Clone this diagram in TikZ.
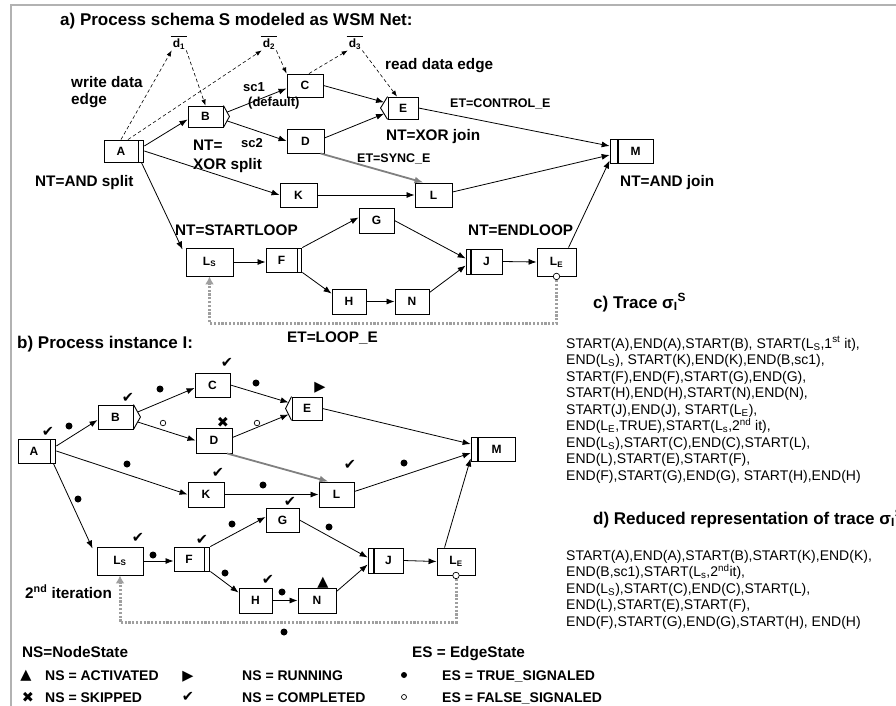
\documentclass[tikz,border=0pt]{standalone}
\usepackage{fontspec}
\setmainfont{Liberation Sans}
\newfontfamily\symf{DejaVu Sans}
\usetikzlibrary{arrows.meta,calc}
\tikzset{
 box/.style={draw, line width=0.9pt, inner sep=0pt, font=\fontsize{12}{14}\selectfont\bfseries},
 bar/.style={draw, line width=0.9pt, inner sep=0pt},
 flow/.style={draw, line width=0.8pt, -{Latex[length=8pt,width=6pt]}},
 data/.style={draw, line width=0.6pt, dash pattern=on 3.5pt off 2.5pt, -{Latex[length=6pt,width=4.5pt]}},
 sync/.style={draw=gray, line width=1.8pt, -{Latex[length=9pt,width=7pt]}},
 loope/.style={draw=gray!75, line width=3pt, dash pattern=on 2.2pt off 1.6pt, -{Latex[length=8pt,width=9pt]}},
 ttl/.style={font=\fontsize{17}{20}\selectfont\bfseries, inner sep=0pt, anchor=base west},
 lbl/.style={font=\fontsize{15.3}{18}\selectfont\bfseries, inner sep=0pt, anchor=base west},
 elbl/.style={font=\fontsize{12.5}{15}\selectfont\bfseries, inner sep=0pt, anchor=base west},
 sclbl/.style={font=\fontsize{13}{15}\selectfont\bfseries, inner sep=0pt, anchor=base west},
 dlbl/.style={font=\fontsize{12}{14}\selectfont\bfseries, inner sep=1pt},
 trc/.style={font=\fontsize{14}{16}\selectfont, inner sep=0pt, anchor=base west},
 leg/.style={font=\fontsize{14}{16}\selectfont\bfseries, inner sep=0pt, anchor=base west},
 sym/.style={font=\symf\fontsize{14.5}{14.5}\selectfont, inner sep=0pt},
 tdot/.style={circle, fill, inner sep=0pt, minimum size=7pt},
 fdot/.style={circle, draw, fill=white, line width=0.7pt, inner sep=0pt, minimum size=5.5pt},
 frame/.style={draw=gray!60, line width=1.2pt},
 chev/.style={draw, line width=0.9pt}
}
\begin{document}
\begin{tikzpicture}[x=1pt,y=-1pt]
\useasboundingbox (0,0) rectangle (896,706);
\draw[frame] (11,5) rectangle (910,720);

% ================= a) =================
\node[ttl] (ta) at (60,26) {a) Process schema S modeled as WSM Net:};

\node[box, minimum width=34, minimum height=22] (A) at (121,151) {A};
\node[bar, minimum width=5, minimum height=22, anchor=west] (Ab) at (A.east) {};
\node[box, minimum width=35, minimum height=21] (B) at (205.5,116.5) {B};
\coordinate (Bt) at ($(B.east)+(6,0)$);
\draw[chev] (B.north east) -- (Bt) -- (B.south east);
\node[box, minimum width=36, minimum height=23] (C) at (305,85.5) {C};
\node[box, minimum width=37, minimum height=24] (D) at (305.5,141) {D};
\node[box, minimum width=30, minimum height=22] (E) at (403,108) {E};
\coordinate (Et) at ($(E.west)+(-7,0)$);
\draw[chev] (E.north west) -- (Et) -- (E.south west);
\node[box, minimum width=35, minimum height=24] (M) at (635.5,151) {M};
\node[bar, minimum width=7, minimum height=24, anchor=east] (Mb) at (M.west) {};
\node[box, minimum width=37, minimum height=24] (K) at (298.5,195) {K};
\node[box, minimum width=37, minimum height=24] (L) at (433.5,195) {L};
\node[box, minimum width=35, minimum height=25] (G) at (376.5,220.5) {G};
\node[box, minimum width=47, minimum height=28] (LS) at (209.5,262) {L\textsubscript{S}};
\node[box, minimum width=31, minimum height=24] (F) at (281.5,260) {F};
\node[bar, minimum width=4, minimum height=24, anchor=west] (Fb) at (F.east) {};
\node[box, minimum width=31, minimum height=25] (J) at (486.5,261.5) {J};
\node[bar, minimum width=4, minimum height=25, anchor=east] (Jb) at (J.west) {};
\node[box, minimum width=39, minimum height=28] (LE) at (556.5,262) {L\textsubscript{E}};
\node[box, minimum width=34, minimum height=25] (H) at (349,301.5) {H};
\node[box, minimum width=34, minimum height=25] (N) at (412,301.5) {N};

% data objects
\node[dlbl] (da1) at (179,44) {d\textsubscript{1}};
\node[dlbl] (da2) at (269,44) {d\textsubscript{2}};
\node[dlbl] (da3) at (355,44) {d\textsubscript{3}};
\foreach \d in {da1,da2,da3}{
  \draw[line width=0.7pt] ($(\d.north west)+(-1,-1)$) -- ($(\d.north east)+(1,-1)$);
}
\draw[data] (A.north) -- (da1.south west);
\draw[data] ($(A.north)+(7,0)$) -- (da2.south west);
\draw[data] (da1.south east) -- (B.north);
\draw[data] (da2.south east) -- (C.north west);
\draw[data] ($(C.north)+(4,0)$) -- (da3.south west);
\draw[data] (da3.south east) -- ($(E.north)+(-6,0)$);

% control edges
\draw[flow] ($(Ab.east)+(0,-5)$) -- ($(B.west)+(0,3)$);
\draw[flow] (Ab.east) -- (K.west);
\draw[flow] (Ab.south) -- ($(LS.north west)+(-3,2)$);
\draw[flow] ($(B.north east)!0.6!(Bt)$) -- ($(C.west)+(0,3)$);
\draw[flow] ($(B.south east)!0.6!(Bt)$) -- (D.west);
\draw[flow] (C.east) -- ($(E.north west)!0.5!(Et)$);
\draw[flow] ($(D.east)+(0,-3)$) -- ($(E.south west)!0.5!(Et)$);
\draw[flow] (E.east) -- ($(Mb.west)+(0,-5)$);
\draw[flow] ($(L.east)+(0,-3)$) -- ($(Mb.west)+(0,4)$);
\draw[flow] ($(LE.north)+(12,0)$) -- ($(Mb.south west)+(0,-3)$);
\draw[flow] (K.east) -- (L.west);
\draw[sync] ($(D.south)+(15,0)$) -- ($(L.north)+(-10,0)$);
\draw[flow] (LS.east) -- (F.west |- LS.east);
\draw[flow] (Fb.north east) -- ($(G.west)+(0,-3)$);
\draw[flow] (Fb.south east) -- ($(H.north west)+(0,5)$);
\draw[flow] (G.east) -- ($(Jb.west)+(0,-3)$);
\draw[flow] (H.east) -- (N.west);
\draw[flow] ($(N.north east)+(0,4)$) -- ($(Jb.west)+(0,4)$);
\draw[flow] (J.east) -- (LE.west);
\draw[loope] (LE.south) -- ++(0,47) -| (LS.south);
\node[fdot, minimum size=6.5pt] (LEc) at (LE.south) {};

% labels a)
\node[lbl] (lw1) at (71,88) {write data};
\node[lbl] (lw2) at (71,105) {edge};
\node[lbl] (lands) at (35,186) {NT=AND split};
\node[sclbl] (lsc1) at (243,92) {sc1};
\node[sclbl] (ldef) at (248,106.5) {(default)};
\node[sclbl] (lsc2) at (241,147.5) {sc2};
\node[lbl] (lxs1) at (193,150.5) {NT=};
\node[lbl] (lxs2) at (193,169) {XOR split};
\node[lbl] (lrd) at (385,70) {read data edge};
\node[elbl] (lctl) at (450,107.5) {ET=CONTROL\_E};
\node[lbl] (lxj) at (386,140) {NT=XOR join};
\node[elbl] (lsy) at (357,162) {ET=SYNC\_E};
\node[lbl] (laj) at (620,186) {NT=AND join};
\node[lbl] (lsl) at (175,235) {NT=STARTLOOP};
\node[lbl] (lel) at (468,235) {NT=ENDLOOP};
\node[lbl] (llp) at (287,342) {ET=LOOP\_E};

% ================= c) d) =================
\node[ttl] (tc) at (593,308) {c) Trace σ\textsubscript{I}\textsuperscript{S}};
\node[trc] (c1) at (566,348) {START(A),END(A),START(B), START(L\textsubscript{S},1\textsuperscript{st} it),};
\node[trc] (c2) at (566,364.5) {END(L\textsubscript{S}), START(K),END(K),END(B,sc1),};
\node[trc] (c3) at (566,381) {START(F),END(F),START(G),END(G),};
\node[trc] (c4) at (566,397.5) {START(H),END(H),START(N),END(N),};
\node[trc] (c5) at (566,414) {START(J),END(J), START(L\textsubscript{E}),};
\node[trc] (c6) at (566,430.5) {END(L\textsubscript{E},TRUE),START(L\textsubscript{s},2\textsuperscript{nd} it),};
\node[trc] (c7) at (566,447) {END(L\textsubscript{S}),START(C),END(C),START(L),};
\node[trc] (c8) at (566,463.5) {END(L),START(E),START(F),};
\node[trc] (c9) at (566,480) {END(F),START(G),END(G), START(H),END(H)};

\node[ttl] (td) at (593,524) {d) Reduced representation of trace σ\textsubscript{I}\textsuperscript{S}};
\node[trc] (e1) at (566,560) {START(A),END(A),START(B),START(K),END(K),};
\node[trc] (e2) at (566,576.5) {END(B,sc1),START(L\textsubscript{s},2\textsuperscript{nd}it),};
\node[trc] (e3) at (566,593) {END(L\textsubscript{S}),START(C),END(C),START(L),};
\node[trc] (e4) at (566,609.5) {END(L),START(E),START(F),};
\node[trc] (e5) at (566,626) {END(F),START(G),END(G),START(H), END(H)};

% ================= b) =================
\node[ttl] (tb) at (17,348) {b) Process instance I:};

\node[box, minimum width=32, minimum height=24] (bA) at (34,451) {A};
\node[bar, minimum width=5, minimum height=24, anchor=west] (bAb) at (bA.east) {};
\node[box, minimum width=35, minimum height=24] (bB) at (115.5,417) {B};
\coordinate (bBt) at ($(bB.east)+(7,0)$);
\draw[chev] (bB.north east) -- (bBt) -- (bB.south east);
\node[box, minimum width=35, minimum height=24] (bC) at (212.5,385) {C};
\node[box, minimum width=36, minimum height=25] (bD) at (214,440.5) {D};
\node[box, minimum width=30, minimum height=23] (bE) at (307,408.5) {E};
\coordinate (bEt) at ($(bE.west)+(-6,0)$);
\draw[chev] (bE.north west) -- (bEt) -- (bE.south west);
\node[box, minimum width=37, minimum height=24] (bM) at (496.5,449) {M};
\node[bar, minimum width=6, minimum height=24, anchor=east] (bMb) at (bM.west) {};
\node[box, minimum width=36, minimum height=25] (bK) at (206,494.5) {K};
\node[box, minimum width=35, minimum height=25] (bL) at (336.5,494.5) {L};
\node[box, minimum width=33, minimum height=24] (bG) at (282.5,520) {G};
\node[box, minimum width=46, minimum height=28] (bLS) at (120,561) {L\textsubscript{S}};
\node[box, minimum width=30, minimum height=24] (bF) at (189,559) {F};
\node[bar, minimum width=5, minimum height=24, anchor=west] (bFb) at (bF.east) {};
\node[box, minimum width=29, minimum height=25] (bJ) at (388.5,560.5) {J};
\node[bar, minimum width=5, minimum height=25, anchor=east] (bJb) at (bJ.west) {};
\node[box, minimum width=38, minimum height=27] (bLE) at (456,561.5) {L\textsubscript{E}};
\node[box, minimum width=33, minimum height=25] (bH) at (255.5,600.5) {H};
\node[box, minimum width=38, minimum height=25] (bN) at (317,600.5) {N};

\draw[flow] ($(bAb.east)+(0,-5)$) -- ($(bB.west)+(0,3)$);
\draw[flow] (bAb.east) -- (bK.west);
\draw[flow] (bAb.south) -- ($(bLS.north west)+(-4,2)$);
\draw[flow] ($(bB.north east)!0.6!(bBt)$) -- ($(bC.west)+(0,3)$);
\draw[flow] ($(bB.south east)!0.6!(bBt)$) -- (bD.west);
\draw[flow] (bC.east) -- ($(bE.north west)!0.5!(bEt)$);
\draw[flow] ($(bD.east)+(0,-3)$) -- ($(bE.south west)!0.5!(bEt)$);
\draw[flow] (bE.east) -- ($(bMb.west)+(0,-5)$);
\draw[flow] ($(bL.east)+(0,-3)$) -- ($(bMb.west)+(0,4)$);
\draw[flow] ($(bLE.north west)+(8,0)$) -- ($(bMb.south west)+(0,-3)$);
\draw[flow] (bK.east) -- (bL.west);
\draw[sync] ($(bD.south)+(13,0)$) -- ($(bL.north)+(-8,0)$);
\draw[flow] (bLS.east) -- (bF.west |- bLS.east);
\draw[flow] (bFb.north east) -- ($(bG.west)+(0,-3)$);
\draw[flow] (bFb.south east) -- ($(bH.north west)+(0,5)$);
\draw[flow] (bG.east) -- ($(bJb.west)+(0,-3)$);
\draw[flow] (bH.east) -- (bN.west);
\draw[flow] ($(bN.north east)+(0,4)$) -- ($(bJb.west)+(0,4)$);
\draw[flow] (bJ.east) -- (bLE.west);
\draw[loope] (bLE.south) -- ++(0,47) -| (bLS.south);
\node[fdot, minimum size=6.5pt] (bLEc) at (bLE.south) {};

% edge states
\node[tdot] (s1) at (69,426) {};
\node[tdot] (s2) at (160,389) {};
\node[fdot] (s3) at (163,423) {};
\node[tdot] (s4) at (256,383) {};
\node[fdot] (s5) at (257,423) {};
\node[tdot] (s6) at (127,464) {};
\node[tdot] (s7) at (78,499) {};
\node[tdot] (s8) at (263,485) {};
\node[tdot] (s9) at (404,463) {};
\node[tdot] (s10) at (153,555) {};
\node[tdot] (s11) at (232,524) {};
\node[tdot] (s12) at (329,527) {};
\node[tdot] (s13) at (225,573) {};
\node[tdot] (s14) at (282,592) {};
\node[tdot] (s15) at (284,632) {};

% node states
\node[sym] (nA) at (48,432) {✔};
\node[sym] (nB) at (128,398) {✔};
\node[sym] (nC) at (227,363) {✔};
\node[sym] (nK) at (218,473) {✔};
\node[sym] (nL) at (350,465) {✔};
\node[sym] (nG) at (290,502) {✔};
\node[sym] (nLS) at (138,538) {✔};
\node[sym] (nF) at (202,540) {✔};
\node[sym] (nH) at (268,580) {✔};
\node[sym] (nE) at (320,388) {▶};
\node[sym] (nD) at (223,422) {✖};
\node[sym] (nN) at (323,583) {▲};

\node[lbl] (lit) at (25,598) {2\textsuperscript{nd} iteration};

% ================= legend =================
\node[lbl] (lns) at (22,657) {NS=NodeState};
\node[sym] (g1) at (26,676) {▲};
\node[leg] (g1t) at (45,680) {NS = ACTIVATED};
\node[sym] (g2) at (28,697) {✖};
\node[leg] (g2t) at (45,702) {NS = SKIPPED};
\node[sym] (g3) at (188,677) {▶};
\node[leg] (g3t) at (242,680) {NS = RUNNING};
\node[sym] (g4) at (188,697) {✔};
\node[leg] (g4t) at (242,702) {NS = COMPLETED};
\node[lbl] (les) at (412,657) {ES = EdgeState};
\node[tdot, minimum size=6pt] (g5) at (404,675) {};
\node[leg] (g5t) at (442,680) {ES = TRUE\_SIGNALED};
\node[fdot, minimum size=5pt] (g6) at (404,697) {};
\node[leg] (g6t) at (442,702) {ES = FALSE\_SIGNALED};
\end{tikzpicture}
\end{document}
